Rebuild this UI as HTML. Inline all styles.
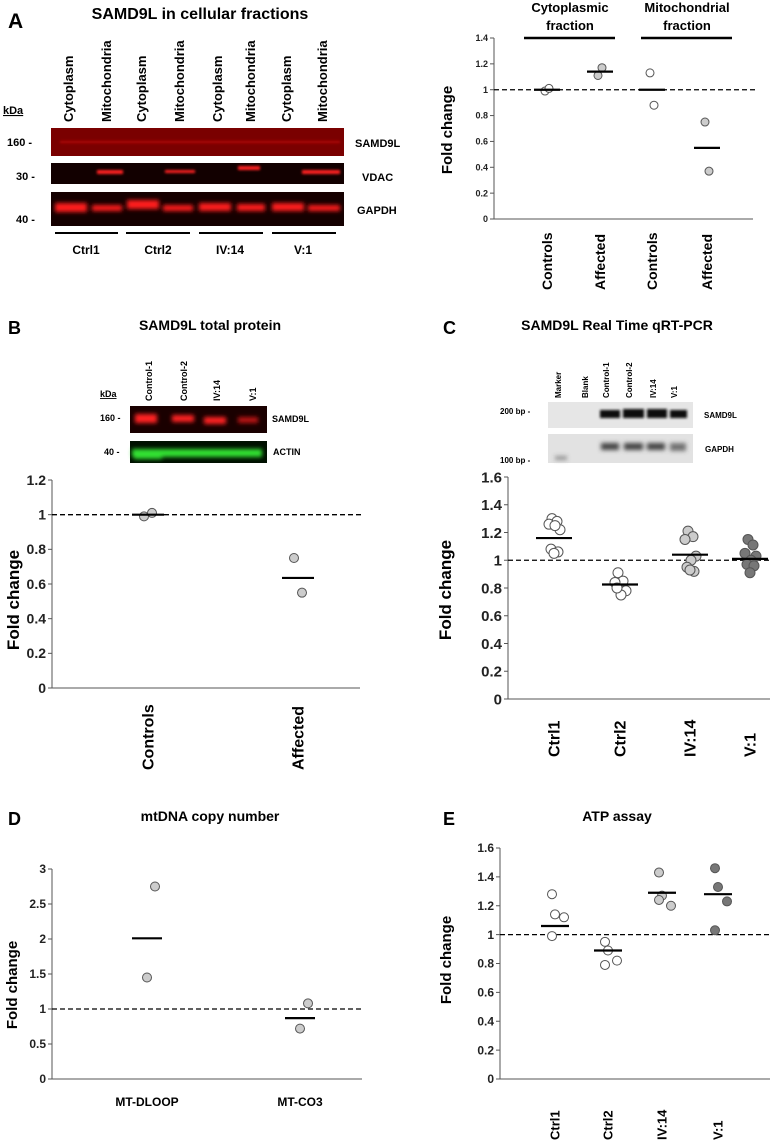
<!DOCTYPE html>
<html><head><meta charset="utf-8">
<style>
html,body{margin:0;padding:0;background:#fff;}
svg{display:block;font-family:"Liberation Sans",Arial,sans-serif;}
.b{font-weight:bold;}
</style></head>
<body>
<svg id="fig" width="780" height="1141" viewBox="0 0 780 1141" xmlns="http://www.w3.org/2000/svg">
<defs>
<filter id="blur1" x="-20%" y="-100%" width="140%" height="300%"><feGaussianBlur stdDeviation="1.2"/></filter>
<filter id="blur2" x="-20%" y="-100%" width="140%" height="300%"><feGaussianBlur stdDeviation="2"/></filter>
</defs>

<!-- Panel A blot -->
<g>
<text x="8" y="28" font-size="21" class="b">A</text>
<text x="200" y="19" font-size="16" class="b" text-anchor="middle">SAMD9L in cellular fractions</text>
<g font-size="13" class="b">
<text transform="translate(73,122) rotate(-90)">Cytoplasm</text>
<text transform="translate(111,122) rotate(-90)">Mitochondria</text>
<text transform="translate(146,122) rotate(-90)">Cytoplasm</text>
<text transform="translate(184,122) rotate(-90)">Mitochondria</text>
<text transform="translate(222,122) rotate(-90)">Cytoplasm</text>
<text transform="translate(255,122) rotate(-90)">Mitochondria</text>
<text transform="translate(291,122) rotate(-90)">Cytoplasm</text>
<text transform="translate(327,122) rotate(-90)">Mitochondria</text>
</g>
<text x="3" y="114" font-size="11" class="b" text-decoration="underline">kDa</text>
<g font-size="11" class="b">
<text x="7" y="146">160 -</text><text x="16" y="180">30 -</text><text x="16" y="223">40 -</text>
</g>
<rect x="51" y="128" width="293" height="28" fill="#7a0000"/>
<rect x="51" y="163" width="293" height="21" fill="#120000"/>
<rect x="51" y="192" width="293" height="34" fill="#150000"/>
<g filter="url(#blur1)" fill="#d01010">
<rect x="60" y="141" width="280" height="2" opacity="0.7"/>
<rect x="97" y="170" width="26" height="4" fill="#ff2020"/>
<rect x="165" y="170" width="30" height="3" fill="#ff2020"/>
<rect x="238" y="166" width="22" height="4" fill="#ff2020"/>
<rect x="302" y="170" width="38" height="4" fill="#ff2020"/>
</g>
<g filter="url(#blur2)" fill="#ff1a1a">
<rect x="55" y="203" width="32" height="9"/><rect x="92" y="205" width="30" height="6"/>
<rect x="127" y="200" width="32" height="9"/><rect x="163" y="205" width="30" height="6"/>
<rect x="199" y="203" width="32" height="8"/><rect x="237" y="204" width="28" height="7"/>
<rect x="272" y="203" width="32" height="8"/><rect x="308" y="205" width="32" height="6"/>
</g>
<g font-size="11" class="b">
<text x="355" y="147">SAMD9L</text><text x="362" y="181">VDAC</text><text x="357" y="214">GAPDH</text>
</g>
<g stroke="#000" stroke-width="2">
<line x1="55" y1="233" x2="118" y2="233"/><line x1="126" y1="233" x2="190" y2="233"/>
<line x1="199" y1="233" x2="263" y2="233"/><line x1="272" y1="233" x2="336" y2="233"/>
</g>
<g font-size="12" class="b" text-anchor="middle">
<text x="86" y="254">Ctrl1</text><text x="158" y="254">Ctrl2</text><text x="230" y="254">IV:14</text><text x="303" y="254">V:1</text>
</g>
</g>

<!-- Panel A chart headers -->
<g font-size="13" class="b" text-anchor="middle">
<text x="570" y="12">Cytoplasmic</text><text x="570" y="30">fraction</text>
<text x="687" y="12">Mitochondrial</text><text x="687" y="30">fraction</text>
<line x1="524" y1="38" x2="615" y2="38" stroke="#000" stroke-width="2.5"/>
<line x1="641" y1="38" x2="732" y2="38" stroke="#000" stroke-width="2.5"/>
</g>

<!-- Panel B blot -->
<g>
<text x="8" y="334" font-size="18" class="b">B</text>
<text x="210" y="330" font-size="14" class="b" text-anchor="middle">SAMD9L total protein</text>
<g font-size="9" class="b">
<text x="100" y="397" text-decoration="underline">kDa</text>
<text transform="translate(152,401) rotate(-90)">Control-1</text>
<text transform="translate(187,401) rotate(-90)">Control-2</text>
<text transform="translate(220,401) rotate(-90)">IV:14</text>
<text transform="translate(256,401) rotate(-90)">V:1</text>
<text x="100" y="421">160 -</text><text x="104" y="455">40 -</text>
<text x="272" y="422">SAMD9L</text><text x="273" y="455">ACTIN</text>
</g>
<rect x="130" y="406" width="137" height="27" fill="#1a0000"/>
<rect x="130" y="441" width="137" height="22" fill="#001000"/>
<g filter="url(#blur2)" fill="#ff2020">
<rect x="135" y="414" width="22" height="9"/><rect x="172" y="415" width="22" height="7"/>
<rect x="204" y="417" width="22" height="7"/><rect x="238" y="417" width="20" height="6" opacity="0.7"/>
</g>
<g filter="url(#blur2)" fill="#30e030">
<rect x="132" y="449" width="130" height="8"/><rect x="134" y="452" width="28" height="7"/>
</g>
</g>

<!-- Panel C gel -->
<g>
<text x="443" y="334" font-size="18" class="b">C</text>
<text x="617" y="330" font-size="14" class="b" text-anchor="middle">SAMD9L Real Time qRT-PCR</text>
<g font-size="8" class="b">
<text transform="translate(561,398) rotate(-90)">Marker</text>
<text transform="translate(588,398) rotate(-90)">Blank</text>
<text transform="translate(609,398) rotate(-90)">Control-1</text>
<text transform="translate(632,398) rotate(-90)">Control-2</text>
<text transform="translate(656,398) rotate(-90)">IV:14</text>
<text transform="translate(677,398) rotate(-90)">V:1</text>
<text x="500" y="414">200 bp -</text><text x="500" y="463">100 bp -</text>
<text x="704" y="418">SAMD9L</text><text x="705" y="452">GAPDH</text>
</g>
<rect x="548" y="402" width="145" height="26" fill="#e6e6e6"/>
<rect x="548" y="434" width="145" height="29" fill="#e2e2e2"/>
<g filter="url(#blur1)" fill="#111">
<rect x="600" y="410" width="20" height="8"/><rect x="623" y="409" width="21" height="9"/>
<rect x="647" y="409" width="20" height="9"/><rect x="670" y="410" width="17" height="8"/>
</g>
<g filter="url(#blur2)" fill="#444">
<rect x="601" y="443" width="18" height="7"/><rect x="624" y="443" width="19" height="7"/>
<rect x="647" y="443" width="18" height="7"/><rect x="670" y="443" width="16" height="8" opacity="0.7"/>
<rect x="555" y="456" width="12" height="4" opacity="0.5"/>
</g>
</g>

<text x="8" y="825" font-size="18" class="b">D</text>
<text x="210" y="821" font-size="14" class="b" text-anchor="middle">mtDNA copy number</text>
<text x="443" y="825" font-size="18" class="b">E</text>
<text x="617" y="821" font-size="14" class="b" text-anchor="middle">ATP assay</text>

<g id="charts"></g>
</svg>

<script>
// ---- Panel A chart data ----
const aCategories = ["Controls","Affected","Controls","Affected"];
const aPoints = [[0.99,1.01],[1.11,1.17],[1.13,0.88],[0.75,0.37]];
const aMeans = [1.0,1.14,1.0,0.55];
const aTicks = ["0","0.2","0.4","0.6","0.8","1","1.2","1.4"];
// ---- Panel B chart data ----
const bCategories = ["Controls","Affected"];
const bPoints = [[0.99,1.01],[0.75,0.55]];
const bMeans = [1.0,0.635];
const bTicks = ["0","0.2","0.4","0.6","0.8","1","1.2"];
// ---- Panel C chart data ----
const cCategories = ["Ctrl1","Ctrl2","IV:14","V:1"];
const cPoints = [
 [1.30,1.28,1.26,1.22,1.25,1.08,1.06,1.05],
 [0.91,0.85,0.84,0.78,0.75,0.80],
 [1.21,1.17,1.15,1.03,1.00,0.95,0.92,0.93],
 [1.15,1.11,1.05,1.03,1.00,0.97,0.96,0.91]];
const cMeans = [1.16,0.825,1.04,1.01];
const cTicks = ["0","0.2","0.4","0.6","0.8","1","1.2","1.4","1.6"];
// ---- Panel D chart data ----
const dCategories = ["MT-DLOOP","MT-CO3"];
const dPoints = [[2.75,1.45],[1.08,0.72]];
const dMeans = [2.01,0.87];
const dTicks = ["0","0.5","1","1.5","2","2.5","3"];
// ---- Panel E chart data ----
const eCategories = ["Ctrl1","Ctrl2","IV:14","V:1"];
const ePoints = [[1.28,1.14,1.12,0.99],[0.95,0.89,0.82,0.79],[1.43,1.27,1.20,1.24],[1.46,1.33,1.23,1.03]];
const eMeans = [1.06,0.89,1.29,1.28];
const eTicks = ["0","0.2","0.4","0.6","0.8","1","1.2","1.4","1.6"];

const NS="http://www.w3.org/2000/svg";
const root=document.getElementById('charts');
function mk(tag,attrs,parent){const e=document.createElementNS(NS,tag);for(const k in attrs)e.setAttribute(k,attrs[k]);(parent||root).appendChild(e);return e;}

function chart(o,cats,pts,means,ticks){
  const g=mk('g',{});
  
  
  const ymax=parseFloat(ticks[ticks.length-1]);
  const y=v=>o.y0-(v/ymax)*(o.y0-o.y1);
  const x=i=>o.cx[i];
  const ax=mk('line',{x1:o.x0,y1:o.y1,x2:o.x0,y2:o.y0,stroke:'#555','stroke-width':1},g);
  
  
  const xl=mk('line',{x1:o.x0,y1:o.y0,x2:o.x1,y2:o.y0,stroke:'#555','stroke-width':1},g);
  
  
  ticks.forEach(t=>{
    const v=parseFloat(t);
    mk('line',{x1:o.x0-4,y1:y(v),x2:o.x0,y2:y(v),stroke:'#555'},g);
    const tx=mk('text',{x:o.x0-6,y:y(v)+o.tf*0.35,'font-size':o.tf,'font-weight':'bold','text-anchor':'end',fill:'#222'},g);
    tx.textContent=t;
    
    
  });
  const dl=mk('line',{x1:o.x0,y1:y(1),x2:o.x1+2,y2:y(1),stroke:'#000','stroke-width':1.3,'stroke-dasharray':'5,3'},g);
  
  
  const yl=mk('text',{transform:`translate(${o.ylx},${o.yly}) rotate(-90)`,'font-size':o.ylf,'font-weight':'bold','text-anchor':'middle'},g);
  yl.textContent='Fold change';
  
  
  cats.forEach((c,i)=>{
    let t;
    if(o.rot){t=mk('text',{transform:`translate(${x(i)+o.cf*0.35},${o.cly}) rotate(-90)`,'font-size':o.cf,'font-weight':'bold'},g);}
    else{t=mk('text',{x:x(i),y:o.cly,'font-size':o.cf,'font-weight':'bold','text-anchor':'middle'},g);}
    t.textContent=c;
    
    
    pts[i].forEach((v,j)=>{
      const off=(o.jit?o.jit[j%o.jit.length]:(j%2?4:-4));
      const p=mk('circle',{cx:x(i)+off,cy:y(v),r:o.r,fill:o.fills[i],stroke:'#555','stroke-width':1},g);
      
      
    });
    const m=mk('line',{x1:x(i)-o.mw,y1:y(means[i]),x2:x(i)+o.mw,y2:y(means[i]),stroke:'#000','stroke-width':2.2},g);
    
    
  });
}

chart({name:'panel-a-chart',x0:494,x1:753,y0:219,y1:38,cx:[547,600,652,707],tf:9,ylx:452,yly:130,ylf:15,cf:14,rot:true,cly:290,r:4,mw:13,fills:['#fff','#ccc','#fff','#ccc'],jit:[-2,2]},aCategories,aPoints,aMeans,aTicks);
chart({name:'panel-b-chart',x0:52,x1:360,y0:688,y1:480,cx:[148,298],tf:14,ylx:19,yly:600,ylf:17,cf:16,rot:true,cly:770,r:4.5,mw:16,fills:['#ccc','#ccc'],jit:[-4,4]},bCategories,bPoints,bMeans,bTicks);
chart({name:'panel-c-chart',x0:508,x1:770,y0:699,y1:477,cx:[554,620,690,750],tf:15,ylx:451,yly:590,ylf:17,cf:16,rot:true,cly:757,r:5,mw:18,fills:['#fff','#fff','#ccc','#777'],jit:[-2,3,-5,6,1,-3,4,0]},cCategories,cPoints,cMeans,cTicks);
chart({name:'panel-d-chart',x0:52,x1:362,y0:1079,y1:869,cx:[147,300],tf:12,ylx:17,yly:985,ylf:15,cf:12,rot:false,cly:1106,r:4.5,mw:15,fills:['#ccc','#ccc'],jit:[8,0]},dCategories,dPoints,dMeans,dTicks);
chart({name:'panel-e-chart',x0:500,x1:770,y0:1079,y1:848,cx:[555,608,662,718],tf:12,ylx:451,yly:960,ylf:15,cf:13,rot:true,cly:1140,r:4.5,mw:14,fills:['#fff','#fff','#ccc','#777'],jit:[-3,0,9,-3]},eCategories,ePoints,eMeans,eTicks);
</script>
</body></html>
